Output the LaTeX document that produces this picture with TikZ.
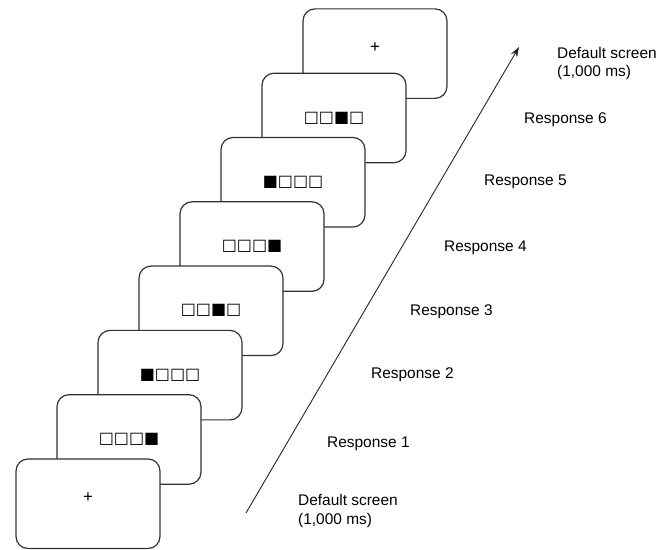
\documentclass[tikz,border=0pt]{standalone}
\usepackage{fontspec}
\setmainfont{Liberation Sans}
\newfontfamily\sqfont{DejaVu Sans}
\usetikzlibrary{arrows.meta}
\begin{document}
\begin{tikzpicture}[x=1bp,y=1bp,
  screen/.style={draw=black!80, line width=1.2bp, fill=white, rounded corners=12bp,
    minimum width=144bp, minimum height=89.5bp, inner sep=0},
  squares/.style={inner sep=0, font=\sqfont\fontsize{16}{16}\selectfont},
  fix/.style={inner sep=0, font=\fontsize{17}{18}\selectfont},
  lab/.style={inner sep=0, anchor=west, align=left, font=\fontsize{15.5}{18.5}\selectfont},
  timeline/.style={-{Stealth[length=10bp,width=7bp]}, line width=0.9bp, draw=black!85}
]
\useasboundingbox (0,0) rectangle (671,550);
% screens, back to front
\node[screen] (s8) at (375,496.35) {};
\node[fix] (t8) at ([yshift=6bp]s8.center) {+};
\node[screen] (s7) at (334,432.05) {};
\node[squares] (t7) at (s7.center) {□□■□};
\node[screen] (s6) at (293,367.75) {};
\node[squares] (t6) at (s6.center) {■□□□};
\node[screen] (s5) at (252,303.45) {};
\node[squares] (t5) at (s5.center) {□□□■};
\node[screen] (s4) at (211,239.15) {};
\node[squares] (t4) at (s4.center) {□□■□};
\node[screen] (s3) at (170,174.85) {};
\node[squares] (t3) at (s3.center) {■□□□};
\node[screen] (s2) at (129,110.55) {};
\node[squares] (t2) at (s2.center) {□□□■};
\node[screen] (s1) at (88,46.25) {};
\node[fix] (t1) at ([yshift=6bp]s1.center) {+};
% time arrow
\coordinate (a0) at (246,37);
\coordinate (a1) at (519,503);
\draw[timeline] (a0) -- (a1);
% labels
\node[lab] (d0) at (298,39) {Default screen\\(1,000 ms)};
\node[lab] (r1) at (327,106) {Response 1};
\node[lab] (r2) at (371,175) {Response 2};
\node[lab] (r3) at (410,238) {Response 3};
\node[lab] (r4) at (444,302) {Response 4};
\node[lab] (r5) at (484,368) {Response 5};
\node[lab] (r6) at (524,430) {Response 6};
\node[lab] (d1) at (557,486.5) {Default screen\\(1,000 ms)};
\end{tikzpicture}
\end{document}
